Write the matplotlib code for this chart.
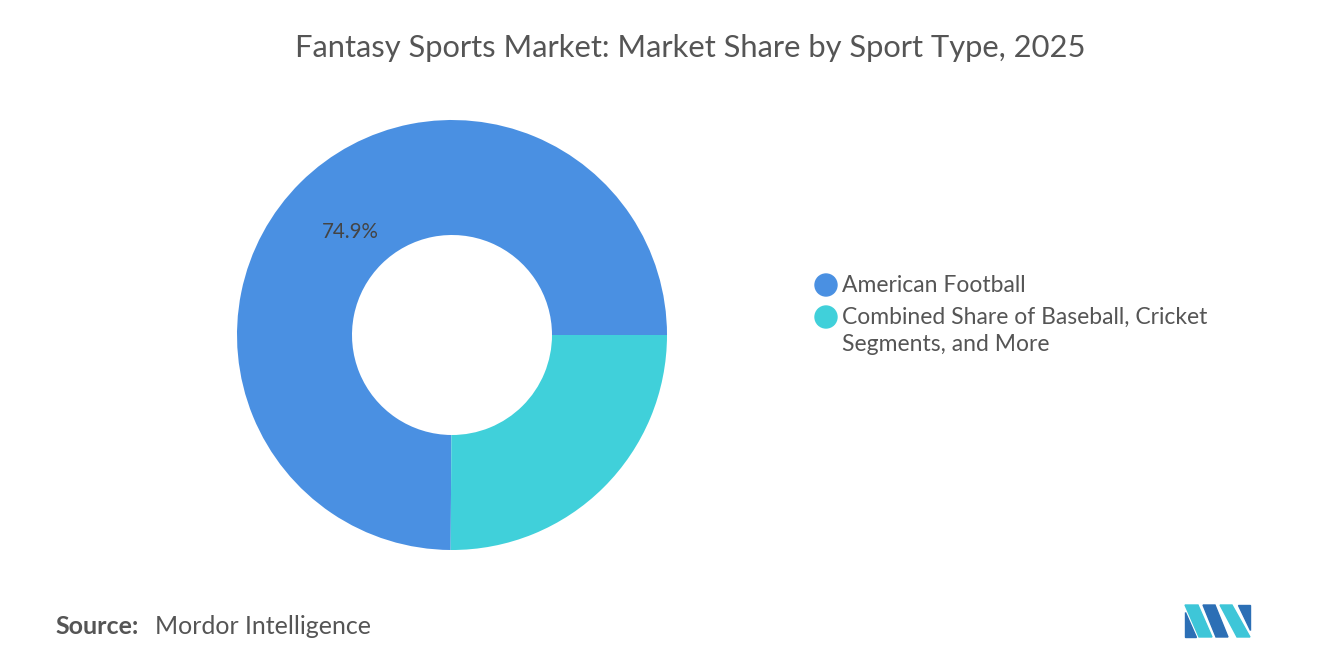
import matplotlib
matplotlib.use("Agg")
import matplotlib.pyplot as plt
from matplotlib.patches import Polygon

labels = ["American Football", "Combined Share of Baseball, Cricket\nSegments, and More"]
values = [74.9, 25.1]
colors = ["#4A90E2", "#40D0DA"]

plt.rcParams['font.family'] = ['Lato', 'DejaVu Sans']
fig = plt.figure(figsize=(13.2, 6.65), dpi=100)
ax = fig.add_axes([237/1320, 115/665, 430/1320, 430/665])
ax.pie(values, colors=colors, startangle=0, counterclock=True, radius=1,
       wedgeprops=dict(width=1-100/215, linewidth=0))
ax.set_xlim(-1, 1); ax.set_ylim(-1, 1); ax.set_aspect('equal'); ax.axis('off')
ax.text(-0.474, 0.479, f"{values[0]}%", ha='center', va='center', fontsize=14.8, color='#444444')

fig.text(690/1320, 1-48/665, "Fantasy Sports Market: Market Share by Sport Type, 2025",
         ha='center', va='center', fontsize=22.2, color='#555555')
ys = [285, 317]
for lab, c, y in zip(labels, colors, ys):
    fig.patches.append(matplotlib.patches.Ellipse((826/1320, 1-y/665), 22/1320, 22/665,
                       transform=fig.transFigure, color=c))
    fig.text(842/1320, 1-(y-10)/665, lab, ha='left', va='top', fontsize=16.5,
             color='#555555', linespacing=1.38)
fig.text(55/1320, 1-627/665, "Source:", fontsize=18, fontweight='bold', color='#555555', va='center')
fig.text(155/1320, 1-627/665, "Mordor Intelligence", fontsize=18, color='#555555', va='center')

# logo
def P(pts, c):
    fig.patches.append(Polygon([(x/1320, 1-y/665) for x, y in pts], closed=True,
                       transform=fig.transFigure, color=c))
P([(1185,605),(1198,605),(1212,637),(1199,637),(1185,605)], '#3EC6D8')
P([(1185,612),(1185,637),(1196,637)], '#2C6FB5')
P([(1203,605),(1215,605),(1228,637),(1216,637)], '#2C6FB5')
P([(1220,605),(1232,605),(1250,637),(1237,637)], '#3EC6D8')
P([(1238,605),(1250,605),(1250,630)], '#2C6FB5')
fig.savefig("out.png", dpi=100, facecolor='white')
